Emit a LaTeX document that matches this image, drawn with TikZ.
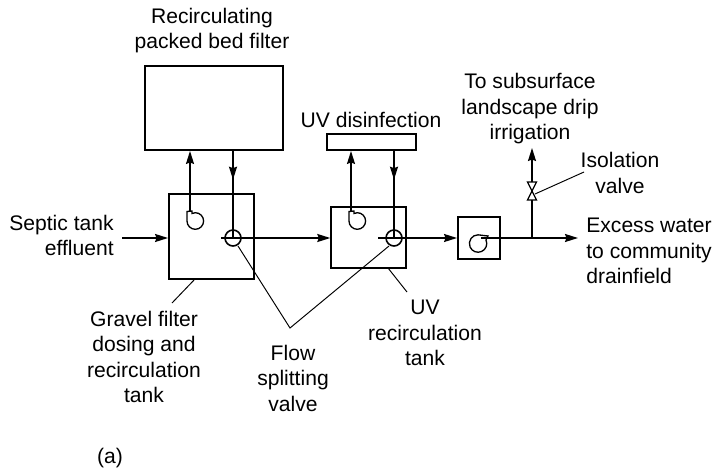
\documentclass[tikz,border=0pt]{standalone}
\usepackage{fontspec}
\setmainfont{Liberation Sans}
\usetikzlibrary{arrows.meta,positioning,calc}
\tikzset{
  tankbox/.style={draw, line width=1.1pt, inner sep=0pt},
  thinbox/.style={draw, line width=0.8pt, inner sep=0pt},
  pumpln/.style={line width=0.75pt},
  flowln/.style={-{Stealth[length=2.6mm,width=1.6mm,inset=0.3mm]}, line width=0.9pt},
  plainln/.style={line width=0.9pt},
  leaderln/.style={line width=0.55pt},
  lab/.style={align=center, font=\fontsize{12}{14.5}\selectfont, inner sep=0pt},
}
\newcommand{\pumpsym}[1]{%
  \draw[pumpln,shift={#1}] (-8,-9.5) -- (-8,0)
    arc[start angle=180, end angle=-90, radius=8.3] -- (-3,-7.5) -- (-3,-10) -- cycle;
}
\begin{document}
\begin{tikzpicture}[x=0.02cm, y=-0.02cm]
    \useasboundingbox (0,0) rectangle (713,473);
    % tanks and boxes
    \node[tankbox, minimum width=2.76cm, minimum height=1.68cm] (filter) at (214,108) {};
    \node[tankbox, minimum width=1.70cm, minimum height=1.70cm] (tankone) at (211.5,236.5) {};
    \node[thinbox, minimum width=1.50cm, minimum height=1.22cm] (tanktwo) at (368.5,237.5) {};
    \node[tankbox, minimum width=1.78cm, minimum height=0.32cm] (uvbar) at (371.5,142) {};
    \node[tankbox, minimum width=0.84cm, minimum height=0.84cm] (pumpbox) at (479,238) {};
    % points on the lines
    \coordinate (septicin) at (122,238);
    \coordinate (pumpone) at (190,211);
    \coordinate (pumptwo) at (351,211);
    \coordinate (valveone) at (233,238);
    \coordinate (valvetwo) at (394,238);
    \coordinate (stubone) at (221,238);
    \coordinate (stubtwo) at (378,238);
    \coordinate (stubthree) at (481,238);
    \coordinate (junction) at (532,238);
    \coordinate (isotop) at (532,182);
    \coordinate (isobot) at (532,200);
    \coordinate (isomid) at (535,194);
    \coordinate (dripend) at (532,148);
    \coordinate (excessend) at (578,238);
    \coordinate (meetpt) at (290,328);
    % pumps
    \pumpsym{(195,221)}
    \pumpsym{(357,221)}
    \draw[pumpln] (486,240) arc[start angle=-24, end angle=270, radius=8.7] -- (488,236) -- cycle;
    % flow lines
    \draw[flowln] (septicin) -- (septicin -| tankone.west);
    \draw[flowln] (pumpone) -- (pumpone |- filter.south);
    \draw[plainln] (valveone |- filter.south) -- (valveone);
    \draw[flowln] (valveone |- filter.south) -- ($(valveone |- filter.south)!0.33!(valveone)$);
    \draw[flowln] (pumptwo) -- (pumptwo |- uvbar.south);
    \draw[plainln] (valvetwo |- uvbar.south) -- (valvetwo);
    \draw[flowln] (valvetwo |- uvbar.south) -- ($(valvetwo |- uvbar.south)!0.33!(valvetwo)$);
    \draw[plainln] (stubone) -- (tankone.east |- stubone);
    \draw[flowln] (tankone.east |- stubone) -- (tanktwo.west |- stubone);
    \draw[plainln] (stubtwo) -- (tanktwo.east |- stubtwo);
    \draw[flowln] (tanktwo.east |- stubtwo) -- (pumpbox.west);
    \draw[plainln] (stubthree) -- (junction);
    \draw[flowln] (junction) -- (excessend);
    \draw[plainln] (junction) -- (isobot);
    \draw[flowln] (isotop) -- (dripend);
    \foreach \v in {valveone, valvetwo} {
      \draw[plainln] (\v) circle (8);
    }
    % isolation valve
    \draw[pumpln] ($(isotop)+(-4.5,0)$) -- ($(isotop)+(4.5,0)$)
      -- ($(isobot)+(-4.5,0)$) -- ($(isobot)+(4.5,0)$) -- cycle;
    % labels
    \node[lab] (filterlab) at (212,30.5) {Recirculating\\packed bed filter};
    \node[lab] (uvlab) at (371,120) {UV disinfection};
    \node[lab] (driplab) at (530,109) {To subsurface\\landscape drip\\irrigation};
    \node[lab] (isolab) at (620,173) {Isolation\\valve};
    \node[lab, align=right, anchor=east] (septiclab) at (114,235.5) {Septic tank\\effluent};
    \node[lab, align=left, anchor=west] (excesslab) at (586,251) {Excess water\\to community\\drainfield};
    \node[lab] (gravellab) at (144,357) {Gravel filter\\dosing and\\recirculation\\tank};
    \node[lab] (uvtanklab) at (425,333) {UV\\recirculation\\tank};
    \node[lab] (splitlab) at (293,378) {Flow\\splitting\\valve};
    \node[lab] (alab) at (110,458) {(a)};
    % leaders
    \draw[leaderln] (195,279) -- (172,303);
    \draw[leaderln] (388,268) -- (407,292);
    \draw[leaderln] (238,246) -- (meetpt) -- (389,246);
    \draw[leaderln] (isomid) -- (584,172);
  \end{tikzpicture}
\end{document}
